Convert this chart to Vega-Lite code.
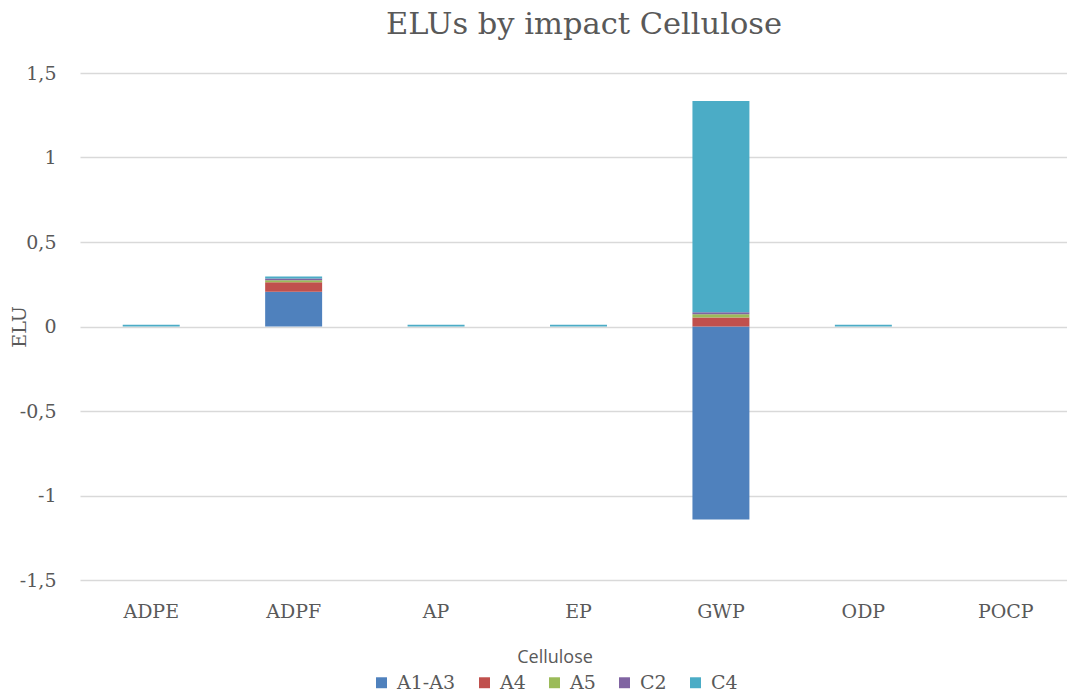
{
  "$schema": "https://vega.github.io/schema/vega-lite/v6.json",
  "width": 950,
  "height": 507,
  "autosize": {"type": "none"},
  "padding": {"left": 80, "top": 73, "right": 37, "bottom": 115},
  "background": "white",
  "title": {
    "text": "ELUs by impact Cellulose",
    "font": "DejaVu Serif",
    "fontSize": 30.5,
    "fontWeight": "normal",
    "color": "#595959",
    "anchor": "middle",
    "dx": 29,
    "offset": 24
  },
  "data": {
    "values": [
      {"impact": "ADPE", "module": "C4", "order": 5, "elu": 0.01},
      {"impact": "ADPF", "module": "A1-A3", "order": 1, "elu": 0.205},
      {"impact": "ADPF", "module": "A4", "order": 2, "elu": 0.057},
      {"impact": "ADPF", "module": "A5", "order": 3, "elu": 0.012},
      {"impact": "ADPF", "module": "C2", "order": 4, "elu": 0.01},
      {"impact": "ADPF", "module": "C4", "order": 5, "elu": 0.012},
      {"impact": "AP", "module": "C4", "order": 5, "elu": 0.01},
      {"impact": "EP", "module": "C4", "order": 5, "elu": 0.01},
      {"impact": "GWP", "module": "A1-A3", "order": 1, "elu": -1.142},
      {"impact": "GWP", "module": "A4", "order": 2, "elu": 0.053},
      {"impact": "GWP", "module": "A5", "order": 3, "elu": 0.02},
      {"impact": "GWP", "module": "C2", "order": 4, "elu": 0.012},
      {"impact": "GWP", "module": "C4", "order": 5, "elu": 1.25},
      {"impact": "ODP", "module": "C4", "order": 5, "elu": 0.01},
      {"impact": "POCP", "module": "C4", "order": 5, "elu": 0.0}
    ]
  },
  "mark": {"type": "bar"},
  "encoding": {
    "x": {
      "field": "impact",
      "type": "nominal",
      "sort": ["ADPE", "ADPF", "AP", "EP", "GWP", "ODP", "POCP"],
      "scale": {"range": [0, 997], "paddingInner": 0.6, "paddingOuter": 0.3},
      "axis": {
        "title": null,
        "labelAngle": 0,
        "domain": false,
        "ticks": false,
        "labelFont": "DejaVu Serif",
        "labelFontSize": 19,
        "labelColor": "#595959",
        "labelPadding": 22
      }
    },
    "y": {
      "field": "elu",
      "type": "quantitative",
      "stack": "zero",
      "scale": {"domain": [-1.5, 1.5], "nice": false},
      "axis": {
        "title": "ELU",
        "titleFont": "DejaVu Serif",
        "titleFontSize": 19,
        "titleFontWeight": "normal",
        "titleColor": "#595959",
        "titlePadding": -10,
        "values": [-1.5, -1, -0.5, 0, 0.5, 1, 1.5],
        "labelExpr": "replace(toString(datum.value), '.', ',')",
        "labelFont": "DejaVu Serif",
        "labelFontSize": 19,
        "labelColor": "#595959",
        "labelPadding": 24,
        "domain": false,
        "ticks": false,
        "grid": true,
        "gridColor": "#d9d9d9",
        "gridWidth": 1.5
      }
    },
    "color": {
      "field": "module",
      "type": "nominal",
      "scale": {
        "domain": ["A1-A3", "A4", "A5", "C2", "C4"],
        "range": ["#4F81BD", "#C0504D", "#9BBB59", "#8064A2", "#4BACC6"]
      },
      "legend": {
        "title": "Cellulose",
        "orient": "bottom",
        "direction": "horizontal",
        "titleAnchor": "middle",
        "titleOrient": "top",
        "titleFont": "Open Sans",
        "titleFontSize": 18,
        "titleFontWeight": "normal",
        "titleColor": "#595959",
        "titlePadding": 6,
        "labelFont": "DejaVu Serif",
        "labelFontSize": 19,
        "labelColor": "#595959",
        "labelOffset": 6,
        "symbolType": "square",
        "symbolSize": 120,
        "symbolStrokeWidth": 0,
        "columnPadding": 19,
        "offset": 28,
        "padding": 0
      }
    },
    "order": {"field": "order", "type": "quantitative"}
  },
  "config": {
    "view": {"stroke": null},
    "legend": {"layout": {"bottom": {"anchor": "middle"}}}
  }
}
